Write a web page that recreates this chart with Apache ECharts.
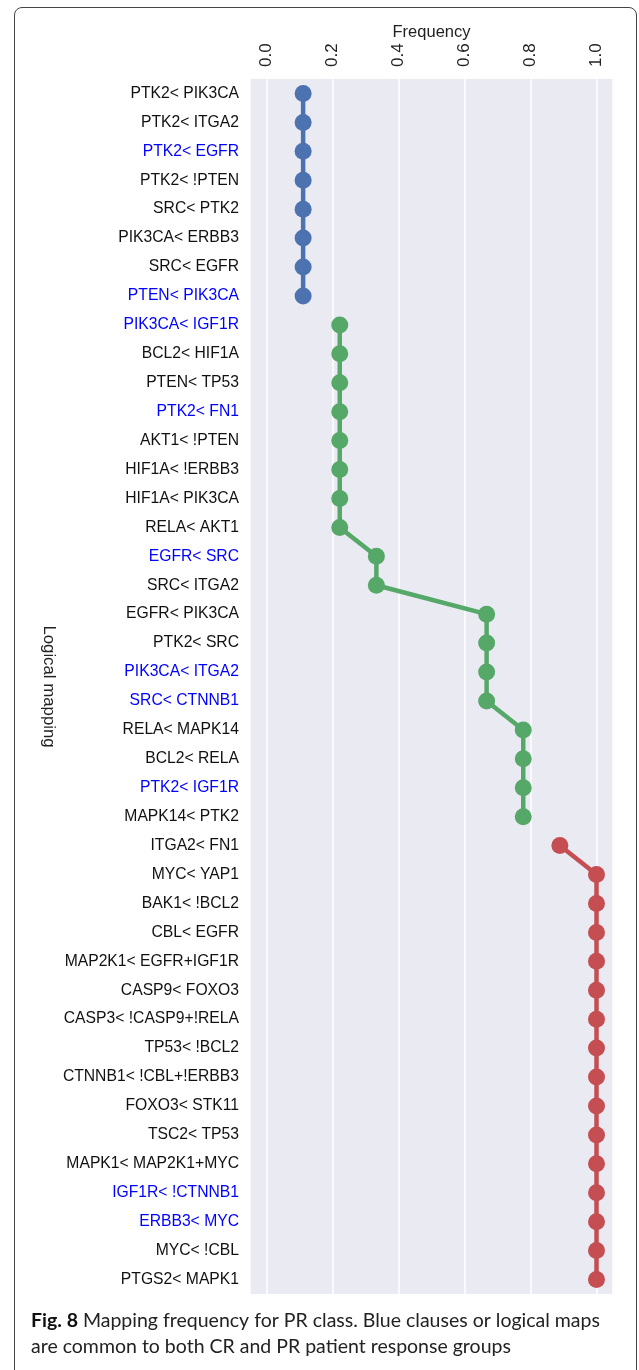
<!DOCTYPE html>
<html>
<head>
<meta charset="utf-8">
<script src="https://cdn.jsdelivr.net/npm/echarts@6/dist/echarts.min.js"></script>
<style>
  html, body { margin: 0; padding: 0; background: #fff; }
  .frame {
    position: absolute;
    left: 14px;
    top: 7px;
    width: 621px;
    height: 1400px;
    border: 1px solid #444;
    border-radius: 8px;
  }
  #chart { position: absolute; left: 0; top: 0; width: 639px; height: 1370px; }
</style>
</head>
<body>
<div class="frame"></div>
<div id="chart"></div>
<script>
// logical maps, top to bottom
const mappings = [
  'PTK2< PIK3CA', 'PTK2< ITGA2', 'PTK2< EGFR', 'PTK2< !PTEN', 'SRC< PTK2',
  'PIK3CA< ERBB3', 'SRC< EGFR', 'PTEN< PIK3CA',
  'PIK3CA< IGF1R', 'BCL2< HIF1A', 'PTEN< TP53', 'PTK2< FN1', 'AKT1< !PTEN',
  'HIF1A< !ERBB3', 'HIF1A< PIK3CA', 'RELA< AKT1', 'EGFR< SRC', 'SRC< ITGA2',
  'EGFR< PIK3CA', 'PTK2< SRC', 'PIK3CA< ITGA2', 'SRC< CTNNB1', 'RELA< MAPK14',
  'BCL2< RELA', 'PTK2< IGF1R', 'MAPK14< PTK2',
  'ITGA2< FN1', 'MYC< YAP1', 'BAK1< !BCL2', 'CBL< EGFR', 'MAP2K1< EGFR+IGF1R',
  'CASP9< FOXO3', 'CASP3< !CASP9+!RELA', 'TP53< !BCL2', 'CTNNB1< !CBL+!ERBB3',
  'FOXO3< STK11', 'TSC2< TP53', 'MAPK1< MAP2K1+MYC', 'IGF1R< !CTNNB1',
  'ERBB3< MYC', 'MYC< !CBL', 'PTGS2< MAPK1'
]

// clauses common to CR and PR (drawn in blue)
const commonMappings = [
  'PTK2< EGFR', 'PTEN< PIK3CA', 'PIK3CA< IGF1R', 'PTK2< FN1', 'EGFR< SRC',
  'PIK3CA< ITGA2', 'SRC< CTNNB1', 'PTK2< IGF1R', 'IGF1R< !CTNNB1', 'ERBB3< MYC'
]

const blueFreq = [0.111, 0.111, 0.111, 0.111, 0.111, 0.111, 0.111, 0.111]
const greenFreq = [
  0.222, 0.222, 0.222, 0.222, 0.222, 0.222, 0.222, 0.222,
  0.333, 0.333,
  0.667, 0.667, 0.667, 0.667,
  0.778, 0.778, 0.778, 0.778
]
const redFreq = [
  0.889, 1.0, 1.0, 1.0, 1.0, 1.0, 1.0, 1.0, 1.0, 1.0, 1.0, 1.0, 1.0, 1.0, 1.0, 1.0
]

const groups = [
  { values: blueFreq, start: 0, color: '#4C72B0' },
  { values: greenFreq, start: 8, color: '#55A868' },
  { values: redFreq, start: 26, color: '#C44E52' }
]

const FONT = '"Liberation Sans", Arial, sans-serif'

const chart = echarts.init(document.getElementById('chart'))

const series = groups.map(g => {
  const data = mappings.map((m, i) => {
    const k = i - g.start
    return k >= 0 && k < g.values.length ? g.values[k] : '-'
  })
  return {
    type: 'line',
    data: data,
    symbol: 'circle',
    symbolSize: 17,
    connectNulls: false,
    itemStyle: { color: g.color },
    lineStyle: { color: g.color, width: 4.5 },
    animation: false
  }
})

chart.setOption({
  animation: false,
  textStyle: { fontFamily: FONT },
  grid: {
    left: 250,
    top: 79,
    right: 26,
    bottom: 76,
    show: true,
    backgroundColor: '#EAEAF2',
    borderWidth: 0
  },
  xAxis: {
    type: 'value',
    position: 'top',
    min: -0.05,
    max: 1.05,
    name: 'Frequency',
    nameLocation: 'middle',
    nameGap: 38,
    nameMoveOverlap: false,
    nameTextStyle: { fontSize: 16.5, color: '#222', fontFamily: FONT },
    axisLine: { show: false },
    axisTick: { show: false },
    axisLabel: {
      rotate: -90,
      margin: 12,
      fontSize: 17,
      color: '#222',
      showMinLabel: false,
      showMaxLabel: false,
      formatter: v => (Math.abs(v * 5 - Math.round(v * 5)) < 1e-6 ? v.toFixed(1) : '')
    },
    splitLine: { show: true, lineStyle: { color: '#ffffff', width: 1.5 } }
  },
  yAxis: {
    type: 'category',
    data: mappings,
    inverse: true,
    name: 'Logical mapping',
    nameLocation: 'middle',
    nameRotate: -90,
    nameGap: 193,
    nameMoveOverlap: false,
    nameTextStyle: { fontSize: 16.8, color: '#222', fontFamily: FONT },
    axisLine: { show: false },
    axisTick: { show: false },
    splitLine: { show: false },
    axisLabel: {
      margin: 11,
      fontSize: 15.7,
      fontFamily: FONT,
      color: v => (commonMappings.includes(v) ? '#0000ff' : '#111')
    }
  },
  title: {
    text: '{b|Fig. 8} Mapping frequency for PR class. Blue clauses or logical maps\nare common to both CR and PR patient response groups',
    left: 31,
    top: 1308,
    padding: 0,
    textStyle: {
      fontFamily: 'Lato, "Open Sans", sans-serif',
      fontSize: 19.5,
      fontWeight: 'normal',
      color: '#222',
      lineHeight: 26,
      rich: {
        b: { fontFamily: 'Lato, "Open Sans", sans-serif', fontSize: 19.5, fontWeight: 'bold', color: '#111' }
      }
    }
  },
  series: series
})
</script>
</body>
</html>
